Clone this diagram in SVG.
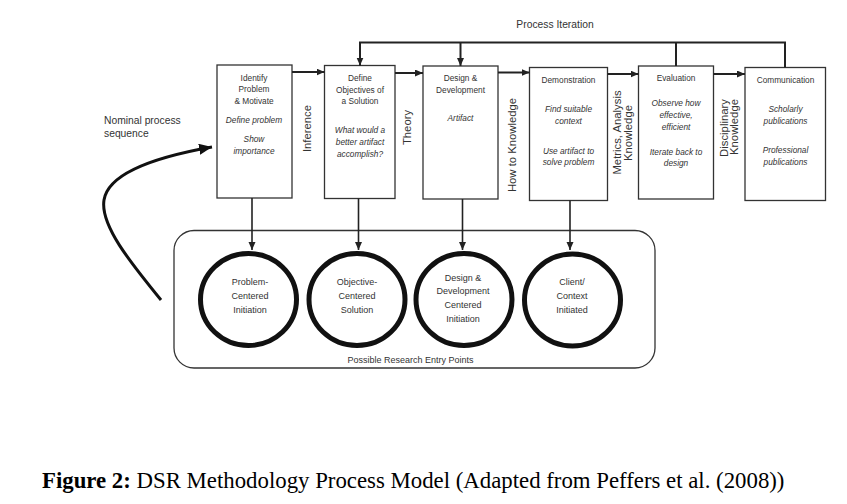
<svg xmlns="http://www.w3.org/2000/svg" width="847" height="504" viewBox="0 0 847 504">
<defs>
<marker id="ah" markerUnits="userSpaceOnUse" markerWidth="9" markerHeight="8" refX="8" refY="3.5" orient="auto"><path d="M0,0 L8,3.5 L0,7 z" fill="#222"/></marker>
<marker id="ahBig" markerUnits="userSpaceOnUse" markerWidth="14" markerHeight="12" refX="13" refY="5.5" orient="auto"><path d="M0,0 L13,5.5 L0,11 z" fill="#111"/></marker>
<style>
.box{fill:#fff;stroke:#333;stroke-width:1.3}
.t{font-family:"Liberation Sans",Arial,sans-serif;font-size:8.3px;fill:#333;text-anchor:middle}
.i{font-style:italic}
.r{font-family:"Liberation Sans",Arial,sans-serif;font-size:11.3px;fill:#333;text-anchor:middle}
.c{font-family:"Liberation Sans",Arial,sans-serif;font-size:9px;fill:#333;text-anchor:middle}
.ring{fill:#fff;stroke:#111;stroke-width:5}
.ln{fill:none;stroke:#222;stroke-width:2}
.lnv{fill:none;stroke:#222;stroke-width:1.6}
</style>
</defs>
<rect width="847" height="504" fill="#fff"/>

<text x="555" y="27.5" font-family="Liberation Sans,Arial,sans-serif" font-size="10.3" fill="#333" text-anchor="middle">Process Iteration</text>
<text x="104" y="124" font-family="Liberation Sans,Arial,sans-serif" font-size="10.3" fill="#333">Nominal process</text>
<text x="104" y="137" font-family="Liberation Sans,Arial,sans-serif" font-size="10.3" fill="#333">sequence</text>

<g id="entry-points">
<rect x="174" y="230.5" width="481" height="137.5" rx="20" ry="20" fill="none" stroke="#333" stroke-width="1.3"/>
<text x="410.5" y="362.5" class="c" font-size="9.2">Possible Research Entry Points</text>
</g>

<g id="box-identify">
<rect class="box" x="217" y="65" width="75" height="133"/>
<text class="t" x="254" y="80.5">Identify</text>
<text class="t" x="254" y="92">Problem</text>
<text class="t" x="254" y="103.5">&amp; Motivate</text>
<text class="t i" x="254" y="123">Define problem</text>
<text class="t i" x="254" y="142">Show</text>
<text class="t i" x="254" y="153.5">importance</text>
</g>
<g id="box-objectives">
<rect class="box" x="324.5" y="65.5" width="70.5" height="133"/>
<text class="t" x="360" y="80.5">Define</text>
<text class="t" x="360" y="92.5">Objectives of</text>
<text class="t" x="360" y="104">a Solution</text>
<text class="t i" x="360" y="133">What would a</text>
<text class="t i" x="360" y="145">better artifact</text>
<text class="t i" x="360" y="157">accomplish?</text>
</g>
<g id="box-design">
<rect class="box" x="423" y="66" width="75" height="133"/>
<text class="t" x="460.5" y="80.5">Design &amp;</text>
<text class="t" x="460.5" y="92.5">Development</text>
<text class="t i" x="460.5" y="121">Artifact</text>
</g>
<g id="box-demonstration">
<rect class="box" x="529.5" y="67.5" width="78" height="133"/>
<text class="t" x="568.5" y="83">Demonstration</text>
<text class="t i" x="568.5" y="112">Find suitable</text>
<text class="t i" x="568.5" y="123.5">context</text>
<text class="t i" x="568.5" y="153.5">Use artifact to</text>
<text class="t i" x="568.5" y="164.5">solve problem</text>
</g>
<g id="box-evaluation">
<rect class="box" x="638.5" y="66" width="75" height="133"/>
<text class="t" x="676" y="81">Evaluation</text>
<text class="t i" x="676" y="106">Observe how</text>
<text class="t i" x="676" y="118">effective,</text>
<text class="t i" x="676" y="129.5">efficient</text>
<text class="t i" x="676" y="154.5">Iterate back to</text>
<text class="t i" x="676" y="166">design</text>
</g>
<g id="box-communication">
<rect class="box" x="745" y="67.5" width="80.5" height="133"/>
<text class="t" x="785.5" y="83">Communication</text>
<text class="t i" x="785.5" y="112">Scholarly</text>
<text class="t i" x="785.5" y="123.5">publications</text>
<text class="t i" x="785.5" y="153">Professional</text>
<text class="t i" x="785.5" y="164.5">publications</text>
</g>

<g id="circle-problem">
<ellipse class="ring" cx="248.5" cy="299.5" rx="48" ry="46"/>
<text class="c" x="250" y="285">Problem-</text>
<text class="c" x="250" y="298.5">Centered</text>
<text class="c" x="250" y="312.5">Initiation</text>
</g>
<g id="circle-objective">
<ellipse class="ring" cx="357" cy="299.5" rx="48" ry="46"/>
<text class="c" x="357" y="285">Objective-</text>
<text class="c" x="357" y="298.5">Centered</text>
<text class="c" x="357" y="312.5">Solution</text>
</g>
<g id="circle-design">
<ellipse class="ring" cx="464" cy="299.5" rx="48" ry="46"/>
<text class="c" x="463" y="280.5">Design &amp;</text>
<text class="c" x="463" y="294">Development</text>
<text class="c" x="463" y="307.5">Centered</text>
<text class="c" x="463" y="321.5">Initiation</text>
</g>
<g id="circle-client">
<ellipse class="ring" cx="572.5" cy="300" rx="48" ry="46"/>
<text class="c" x="572" y="285">Client/</text>
<text class="c" x="572" y="299">Context</text>
<text class="c" x="572" y="312.5">Initiated</text>
</g>

<g id="labels">
<text class="r" transform="translate(310.5,128.5) rotate(-90)">Inference</text>
<text class="r" transform="translate(411,127.5) rotate(-90)">Theory</text>
<text class="r" transform="translate(516,145) rotate(-90)">How to Knowledge</text>
<text class="r" transform="translate(621,132.5) rotate(-90)">Metrics, Analysis</text>
<text class="r" transform="translate(632,133) rotate(-90)">Knowledge</text>
<text class="r" transform="translate(728,128) rotate(-90)">Disciplinary</text>
<text class="r" transform="translate(738,127) rotate(-90)">Knowledge</text>
</g>

<g id="connectors">
<line class="ln" x1="292" y1="72" x2="324.5" y2="72" marker-end="url(#ah)"/>
<line class="ln" x1="395" y1="73" x2="423" y2="73" marker-end="url(#ah)"/>
<line class="ln" x1="498" y1="72.5" x2="529.5" y2="72.5" marker-end="url(#ah)"/>
<line class="ln" x1="607.5" y1="74" x2="638.5" y2="74" marker-end="url(#ah)"/>
<line class="ln" x1="713.5" y1="74" x2="745" y2="74" marker-end="url(#ah)"/>
<path class="ln" d="M360,65.5 V42.5 H785 V67.5"/>
<line class="ln" x1="360" y1="50" x2="360" y2="65.5" marker-end="url(#ah)"/>
<line class="ln" x1="460.5" y1="42.5" x2="460.5" y2="66" marker-end="url(#ah)"/>
<line class="ln" x1="676" y1="42.5" x2="676" y2="66"/>
<line class="lnv" x1="252" y1="198" x2="252" y2="250" marker-end="url(#ah)"/>
<line class="lnv" x1="358.5" y1="198.5" x2="358.5" y2="250" marker-end="url(#ah)"/>
<line class="lnv" x1="462.5" y1="199" x2="462.5" y2="250" marker-end="url(#ah)"/>
<line class="lnv" x1="570" y1="200.5" x2="570" y2="250" marker-end="url(#ah)"/>
<path d="M161,300 C130,262 100,225 104,200 C108,175 150,158 212,147" fill="none" stroke="#111" stroke-width="3" marker-end="url(#ahBig)"/>
</g>

<text x="42" y="488" font-family="Liberation Serif,'Times New Roman',serif" font-size="22.8" fill="#000"><tspan font-weight="bold">Figure 2:</tspan> DSR Methodology Process Model (Adapted from Peffers et al. (2008))</text>
</svg>
